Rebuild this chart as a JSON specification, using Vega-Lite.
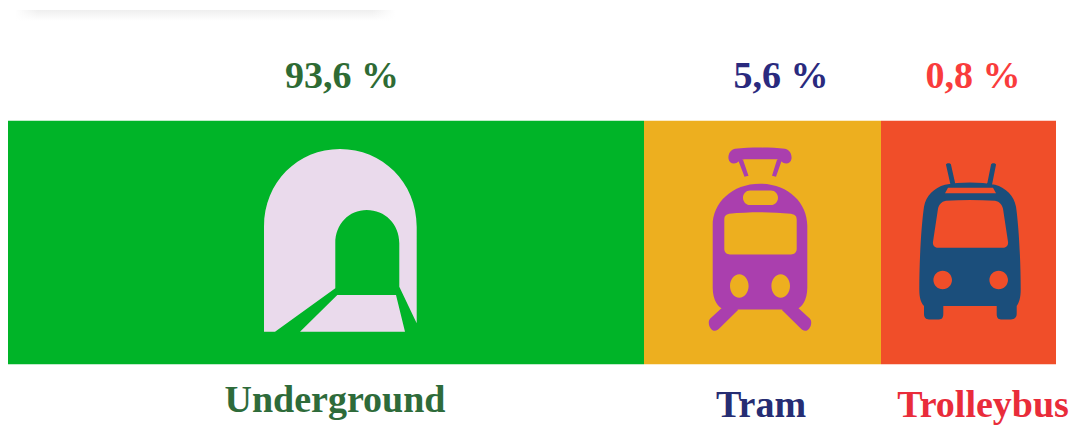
{"$schema":"https://vega.github.io/schema/vega-lite/v6.json","width":1071,"height":425,"padding":0,"autosize":{"type":"fit","contains":"padding"},"background":"white","config":{"view":{"stroke":null}},"datasets":{"modes":[{"mode":"Underground","share":"93,6 %","start":8,"end":644,"icon":340,"iconY":240.5,"shareAt":342,"nameAt":335,"nameY":413},{"mode":"Tram","share":"5,6 %","start":644,"end":881,"icon":760,"iconY":238.3,"shareAt":781,"nameAt":761,"nameY":418},{"mode":"Trolleybus","share":"0,8 %","start":881,"end":1056,"icon":970,"iconY":243.3,"shareAt":973,"nameAt":983,"nameY":418}]},"data":{"name":"modes"},"resolve":{"scale":{"color":"independent"}},"layer":[{"data":{"values":[{"a":15,"b":395}]},"mark":{"type":"rect","fill":{"gradient":"linear","x1":0,"y1":0,"x2":0,"y2":1,"stops":[{"offset":0,"color":"#efefef"},{"offset":1,"color":"#ffffff"}]}},"encoding":{"x":{"field":"a","type":"quantitative","scale":{"domain":[0,1071],"nice":false},"axis":null},"x2":{"field":"b"},"y":{"datum":10,"type":"quantitative","scale":{"domain":[0,425],"reverse":true,"nice":false},"axis":null},"y2":{"datum":21}}},{"data":{"values":[{"a":15,"b":395}]},"mark":{"type":"rect","fill":{"gradient":"linear","x1":0,"y1":0,"x2":1,"y2":0,"stops":[{"offset":0,"color":"rgba(255,255,255,1)"},{"offset":0.06,"color":"rgba(255,255,255,0)"},{"offset":0.94,"color":"rgba(255,255,255,0)"},{"offset":1,"color":"rgba(255,255,255,1)"}]}},"encoding":{"x":{"field":"a","type":"quantitative"},"x2":{"field":"b"},"y":{"datum":9,"type":"quantitative"},"y2":{"datum":22}}},{"mark":{"type":"rect"},"encoding":{"x":{"field":"start","type":"quantitative"},"x2":{"field":"end"},"y":{"datum":121,"type":"quantitative"},"y2":{"datum":365},"color":{"field":"mode","type":"nominal","legend":null,"scale":{"domain":["Underground","Tram","Trolleybus"],"range":["#00b428","#edaf1f","#f04e29"]}}}},{"mark":{"type":"point","filled":true,"opacity":1,"size":4},"encoding":{"x":{"field":"icon","type":"quantitative"},"y":{"field":"iconY","type":"quantitative"},"shape":{"field":"mode","type":"nominal","legend":null,"scale":{"domain":["Underground","Tram","Trolleybus"],"range":["M-76 91.7 L-76 -13.3 C-76 -58 -42 -91 0 -91 C42 -91 76.7 -58 76.7 -13.3 L76.7 83.3 L59.3 46.7 L59.3 3.3 C59.3 -16 45 -30 26.7 -30 C9 -30 -4.7 -16 -4.7 3.3 L-4.7 48.3 L-65 91.7 Z M-40 91.7 L-2.7 55 L56 55 L65 91.7 Z","M0 -54 C28 -54 47.3 -35 47.3 -12 L47.3 50 C47.3 62 42 70 36 71.7 L-36 71.7 C-42 70 -47.3 62 -47.3 50 L-47.3 -12 C-47.3 -35 -28 -54 0 -54 Z M-10 -47.3 C-14 -47.3 -17 -44 -17 -40 C-17 -36 -14 -32.7 -10 -32.7 L11 -32.7 C15 -32.7 18 -36 18 -40 C18 -44 15 -47.3 11 -47.3 Z M-31 -24 C-34 -23 -35.7 -22 -35.7 -18 L-35.7 11 C-35.7 15 -33 16.7 -30 16.7 L31 16.7 C34 16.7 36.7 15 36.7 11 L36.7 -18 C36.7 -22 35 -23 31 -24 C10 -26 -10 -26 -31 -24 Z M-11.4 48.3 A9.3 11.7 0 1 0 -30 48.3 A9.3 11.7 0 1 0 -11.4 48.3 Z M30 48.3 A9.3 11.7 0 1 0 11.4 48.3 A9.3 11.7 0 1 0 30 48.3 Z M-38 70 L-21.7 72 L-40 90 C-42 92 -44 93.5 -46 93 C-50 92 -53 85 -50 81 Z M38 70 L50 81 C53 85 50 92 46 93 C44 93.5 42 92 40 90 L21.7 72 Z M-25 -89 C-10 -90.5 10 -90.5 25 -89 C30 -88 32 -83 31.5 -79 C31 -75 27 -73 23 -75 C20 -78 18 -78.5 14 -78.5 L-14 -78.5 C-18 -78.5 -20 -78 -23 -75 C-27 -73 -31 -75 -31.5 -79 C-32 -83 -30 -88 -25 -89 Z M-22 -78 L-17 -78 L-11.5 -62 L-15.5 -61 Z M17 -78 L22 -78 L16 -61 L12 -62 Z","M-25 -58 C-10 -61 10 -61 25 -58 C36 -55 44 -47 46 -36 C49 -15 50.7 20 50.7 47 C50.7 55 49 60 46.7 63.3 L46.7 71 C46.7 75 44 76.7 41 76.7 L31 76.7 C28 76.7 26.7 75 26.7 71 L26.7 63.3 L-26.7 63.3 L-26.7 71 C-26.7 75 -28 76.7 -31 76.7 L-41 76.7 C-44 76.7 -46 75 -46 71 L-46 63.3 C-49 60 -50.7 55 -50.7 47 C-50.7 20 -49 -15 -46 -36 C-44 -47 -36 -55 -25 -58 Z M-22 -55 L-25 -49.5 L26 -49.5 L23 -55 Z M-24 -42 C-29 -41 -31 -38 -32 -34 L-37 -1 C-37.5 3 -35 5 -32 5 L33 5 C36 5 38.5 3 38 -1 L33 -34 C32 -38 30 -41 25 -42 C8 -43 -8 -43 -24 -42 Z M-18 37.3 A9.3 9.3 0 1 0 -36.6 37.3 A9.3 9.3 0 1 0 -18 37.3 Z M38 37.3 A9.3 9.3 0 1 0 19.4 37.3 A9.3 9.3 0 1 0 38 37.3 Z M-24 -78 C-24 -80 -19 -80 -19 -78 L-14.5 -58 L-19.5 -58 Z M21 -78 C21 -80 26 -80 26 -78 L22 -58 L17 -58 Z"]}},"color":{"field":"mode","type":"nominal","legend":null,"scale":{"domain":["Underground","Tram","Trolleybus"],"range":["#eadaec","#aa3fae","#1b4e7b"]}}}},{"mark":{"type":"text","font":"Liberation Serif","fontWeight":"bold","fontSize":38,"align":"center","baseline":"alphabetic"},"encoding":{"x":{"field":"shareAt","type":"quantitative"},"y":{"datum":88,"type":"quantitative"},"text":{"field":"share"},"color":{"field":"mode","type":"nominal","legend":null,"scale":{"domain":["Underground","Tram","Trolleybus"],"range":["#2e6b34","#2a2a7e","#f93c3c"]}}}},{"mark":{"type":"text","font":"Liberation Serif","fontWeight":"bold","fontSize":38,"align":"center","baseline":"alphabetic"},"encoding":{"x":{"field":"nameAt","type":"quantitative"},"y":{"field":"nameY","type":"quantitative"},"text":{"field":"mode"},"color":{"field":"mode","type":"nominal","legend":null,"scale":{"domain":["Underground","Tram","Trolleybus"],"range":["#2e6b3a","#262d73","#e92c3a"]}}}}]}
